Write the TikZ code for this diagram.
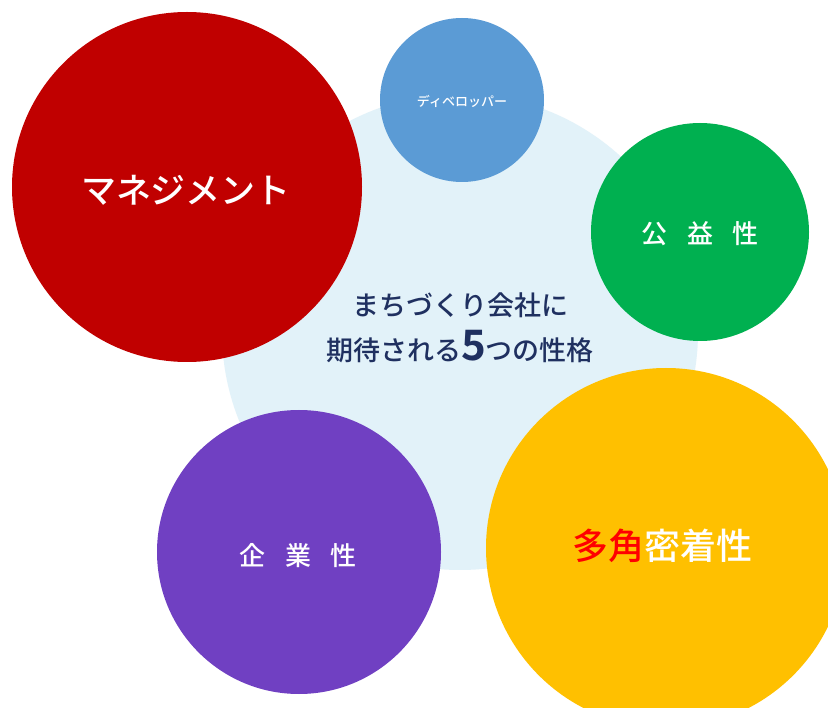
\documentclass[tikz,border=0pt]{standalone}
\usepackage{fontspec}
\newfontfamily\jp{Noto Sans CJK JP Medium}
\newfontfamily\jpb{Noto Sans CJK JP Medium}
\newfontfamily\jpbb{Noto Sans CJK JP Bold}
\definecolor{bgblue}{HTML}{E2F2F9}
\definecolor{cred}{HTML}{C00000}
\definecolor{cblue}{HTML}{5B9BD5}
\definecolor{cgreen}{HTML}{00B050}
\definecolor{cyellow}{HTML}{FFC000}
\definecolor{cpurple}{HTML}{7040C2}
\definecolor{navy}{HTML}{1F3060}
\definecolor{hot}{HTML}{FF0000}
\begin{document}
\begin{tikzpicture}[x=1pt,y=-1pt,
  bubble/.style={circle,inner sep=0pt,minimum size=#1,draw=none},
  lbl/.style={text=white,font=\jp,inner sep=0pt}]
\clip (0,0) rectangle (828,708);
\fill[white] (0,0) rectangle (828,708);
\node[bubble=476pt,fill=bgblue] (hub) at (460,332) {};
\node[bubble=350pt,fill=cred] (mgmt) at (187,187) {};
\node[bubble=164pt,fill=cblue] (dev) at (462,100) {};
\node[bubble=218pt,fill=cgreen] (pub) at (700,232) {};
\node[bubble=284pt,fill=cpurple] (ent) at (299,552) {};
\node[bubble=360pt,fill=cyellow] (multi) at (666,548) {};
\node[lbl,font=\jp\fontsize{35}{40}\selectfont] (tmgmt) at (186,190) {マネジメント};
\node[lbl,font=\jp\fontsize{13}{15}\selectfont] (tdev) at (462,101) {ディベロッパー};
\node[lbl,font=\jp\fontsize{26}{30}\selectfont] (tpub) at (700,234) {公\hspace{0.75em}益\hspace{0.75em}性};
\node[lbl,font=\jp\fontsize{26}{30}\selectfont] (tent) at (298,556) {企\hspace{0.75em}業\hspace{0.75em}性};
\node[lbl,font=\jp\fontsize{36}{42}\selectfont] (tmulti) at (662,546) {\textcolor{hot}{多角}密着性};
\node[inner sep=0pt,text=navy,font=\jpb\fontsize{27}{45}\selectfont,align=center] (title) at (460,328)
  {まちづくり会社に\\期待される{\jpbb\fontsize{42}{45}\selectfont 5}つの性格};
\end{tikzpicture}
\end{document}
